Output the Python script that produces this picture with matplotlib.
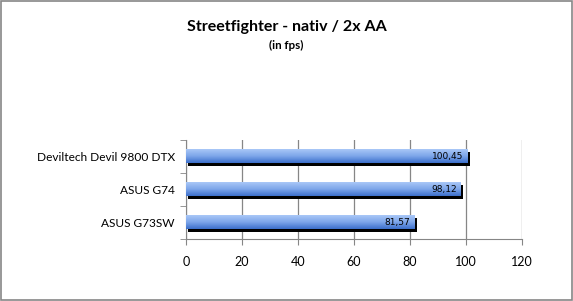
import numpy as np
import matplotlib.pyplot as plt
from matplotlib.transforms import offset_copy
from matplotlib.colors import LinearSegmentedColormap

# data
systems = ["ASUS G73SW", "ASUS G74", "Deviltech Devil 9800 DTX"]
fps = [81.57, 98.12, 100.45]
labels = ["81,57", "98,12", "100,45"]
xticks = [0, 20, 40, 60, 80, 100, 120]

plt.rcParams['font.family'] = ['Lato', 'DejaVu Sans']

fig = plt.figure(figsize=(5.73, 3.01), dpi=100)
ax = fig.add_axes([0.3246, 0.206, 0.5864, 0.329])

bar_h = 0.40
ypos = np.arange(len(systems))

# shadows (offset a few pixels right/down)
shadow_tr = offset_copy(ax.transData, fig=fig, x=2.5, y=-2.5, units='dots')
ax.barh(ypos, fps, height=bar_h, color='black', transform=shadow_tr, zorder=2)

# gradient bars
cmap = LinearSegmentedColormap.from_list('g', ['#3c6fcb', '#7da6ea', '#a9c7f7'])
grad = np.linspace(0, 1, 64).reshape(-1, 1)
for y, v in zip(ypos, fps):
    ax.imshow(grad, cmap=cmap, aspect='auto', origin='lower',
              extent=[0, v, y - bar_h / 2, y + bar_h / 2], zorder=3)

for y, v, t in zip(ypos, fps, labels):
    ax.text(v - 1.5, y, t, ha='right', va='center', fontsize=6.5,
            family='DejaVu Sans', zorder=4)

ax.set_xlim(0, 120)
ax.set_ylim(-0.5, len(systems) - 0.5)
ax.set_xticks(xticks)
ax.set_yticks(ypos)
ax.set_yticklabels(systems, fontsize=8.6)
ax.set_yticks(np.arange(-0.5, len(systems), 1), minor=True)
ax.tick_params(axis='y', which='major', length=0, pad=8)
ax.tick_params(axis='y', which='minor', length=4, color='#868686')
ax.tick_params(axis='x', length=4, color='#868686', labelsize=9, pad=8)
ax.xaxis.grid(True, color='#868686', linewidth=0.9, zorder=0)
ax.set_axisbelow(True)
for s in ['top', 'right']:
    ax.spines[s].set_visible(False)
ax.spines['left'].set_color('#868686')
ax.spines['bottom'].set_color('#868686')

fig.text(0.5, 0.91, "Streetfighter - nativ / 2x AA", ha='center', va='center',
         fontsize=11.5, fontweight='bold')
fig.text(0.5, 0.848, "(in fps)", ha='center', va='center', fontsize=8.3,
         fontweight='bold')

# border of the chart
fig.patches.append(plt.Rectangle((0.001, 0.002), 0.997, 0.995, transform=fig.transFigure,
                                 fill=False, edgecolor='#868686', linewidth=1.2))

fig.savefig('out.png', dpi=100)
